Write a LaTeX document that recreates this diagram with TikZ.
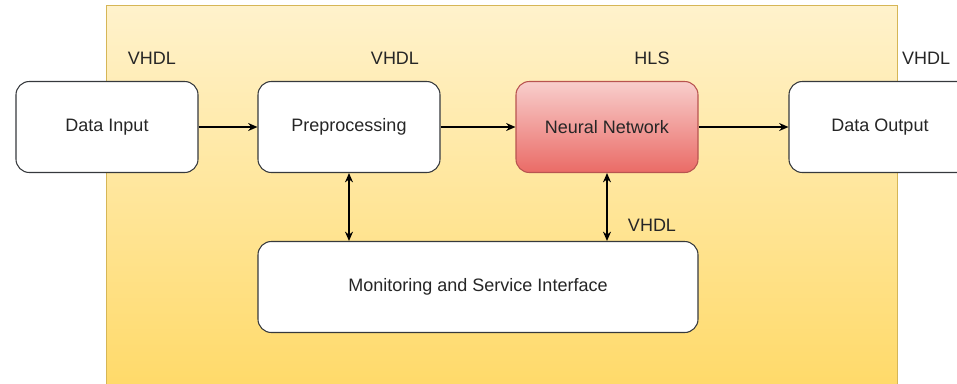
\documentclass[tikz,border=0pt]{standalone}
\usepackage{fontspec}
\setmainfont{Liberation Sans}
\usetikzlibrary{arrows.meta,positioning}

\definecolor{fpgatop}{HTML}{FFF2CC}
\definecolor{fpgabot}{HTML}{FFD966}
\definecolor{fpgaline}{HTML}{D6B656}
\definecolor{nntop}{HTML}{F8CECC}
\definecolor{nnbot}{HTML}{EA6B66}
\definecolor{nnline}{HTML}{B85450}
\definecolor{boxline}{HTML}{36393D}
\definecolor{txt}{HTML}{262626}

\begin{document}
\begin{tikzpicture}[x=0.75pt,y=-0.75pt,on grid,>={Stealth[length=7pt,width=6pt]},
    block/.style={draw=boxline,line width=0.8pt,fill=white,rounded corners=10pt,
        minimum width=136.5pt,minimum height=68.25pt,text=txt,
        font=\fontsize{13.5}{16}\selectfont},
    lang/.style={text=txt,font=\fontsize{13.5}{16}\selectfont}]
            \clip (0,0) rectangle (957,383);
            \shade[top color=fpgatop, bottom color=fpgabot, draw=fpgaline] (106,5) rectangle (897,400);
            \node[block] (din) at (107,127) {Data Input};
            \node[block] (pre) [right=181.5pt of din] {Preprocessing};
            \node[block, draw=nnline, top color=nntop, bottom color=nnbot] (nn) [right=193.5pt of pre] {Neural Network};
            \node[block] (dout) [right=204.75pt of nn] {Data Output};
            \node[block, minimum width=330pt] (mon) [below right=120pt and 96.75pt of pre] {Monitoring and Service Interface};
            \node[lang] (l_din) [above right=51.75pt and 33.75pt of din] {VHDL};
            \node[lang] (l_pre) [above right=51.75pt and 34.5pt of pre] {VHDL};
            \node[lang] (l_nn) [above right=51.75pt and 33.75pt of nn] {HLS};
            \node[lang] (l_dout) [above right=51.75pt and 34.5pt of dout] {VHDL};
            \node[lang] (l_mon) [below right=73.5pt and 33.75pt of nn] {VHDL};
            \path[->, line width=1pt]
                (din) edge (pre)
                (pre) edge (nn)
                (nn) edge (dout);
            \draw[<->, line width=1pt] (pre.south) -- (pre.south |- mon.north);
            \draw[<->, line width=1pt] (nn.south) -- (nn.south |- mon.north);
        \end{tikzpicture}
\end{document}
